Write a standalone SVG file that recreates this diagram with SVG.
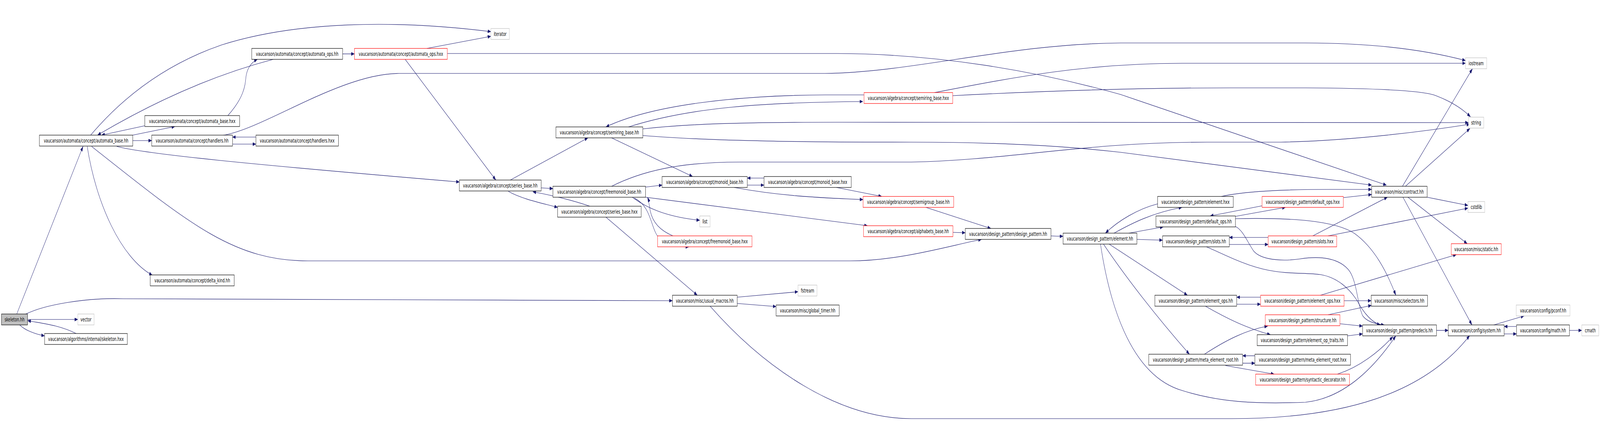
<svg xmlns="http://www.w3.org/2000/svg" width="6496" height="1078" viewBox="0 0 6496 1078" preserveAspectRatio="none" style="width:100vw;height:100vh;display:block">
<style>
.node rect{fill:#ffffff;stroke:#000000;stroke-width:1.2}
.node.red rect{stroke:#ff0000}
.node.std rect{stroke:#bfbfbf}
.node.root rect{fill:#bfbfbf}
.node text{font-family:"DejaVu Sans","Liberation Sans",sans-serif;font-size:14px;fill:#000000;text-anchor:middle}
#edges path{fill:none;stroke:#191970;stroke-width:1.2;marker-end:url(#arr)}
</style>
<defs>
<marker id="arr" markerUnits="userSpaceOnUse" markerWidth="13" markerHeight="9" refX="13" refY="4.5" orient="auto">
<path d="M0,0 L13,4.5 L0,9 z" fill="#191970" stroke="#191970" stroke-width="0.5"/>
</marker>
</defs>
<rect x="0" y="0" width="6496" height="1078" fill="#ffffff"/>
<g id="edges">
<path d="M68,804 L337,375"/>
<path d="M112,818 L316,818"/>
<path d="M80,832 C100,845 140,855 181,860"/>
<path d="M309,854 C240,832 170,828 112,821"/>
<path d="M102,805 C180,780 350,762 500,765 L2730,770"/>
<path d="M539,346 L710,324"/>
<path d="M588,322 L412,346"/>
<path d="M1109,152 Q760,210 396,346"/>
<path d="M368,346 C430,300 600,180 900,115 C1200,55 1600,50 1993,81"/>
<path d="M539,360 L616,360"/>
<path d="M1039,351 L944,351"/>
<path d="M944,369 L1039,369"/>
<path d="M354,375 C390,520 490,660 619,705"/>
<path d="M474,375 C600,395 1000,420 1865,466"/>
<path d="M372,375 C772,575 950,668 1250,668 L3450,668 C3650,668 3850,630 3985,613"/>
<path d="M925,296 C990,250 995,220 998,200 C1002,175 1020,160 1045,152"/>
<path d="M1391,138 L1439,138"/>
<path d="M1733,124 L1993,93"/>
<path d="M1645,152 L2013,461"/>
<path d="M1816,137 L3400,137 C3800,138 4200,180 4550,242 L5629,474"/>
<path d="M898,347 C1060,335 1380,188 1620,188 L3350,188 C3700,186 4100,112 4550,110 L5300,110 C5600,110 5800,130 5950,155"/>
<path d="M2072,461 L2387,353"/>
<path d="M2197,481 L2245,483"/>
<path d="M2395,528 C2320,512 2240,500 2163,491"/>
<path d="M2064,490 C2120,510 2200,520 2264,531"/>
<path d="M2483,353 L2812,452"/>
<path d="M3508,243 L3350,243 C3000,244 2650,268 2460,325"/>
<path d="M2552,325 C2800,275 3100,262 3503,260"/>
<path d="M2610,330 C2800,317 3000,313 3400,313 L5962,314"/>
<path d="M2610,347 C2900,362 3300,364 3700,364 C4000,364 4300,372 4550,390 L5569,474"/>
<path d="M2483,477 C2600,440 2750,415 3000,415 L3700,415 C4100,410 4400,364 4900,364 L5200,364 C5500,360 5800,335 5968,318"/>
<path d="M2621,479 L2688,474"/>
<path d="M3102,456 L3034,456"/>
<path d="M3034,474 L3102,474"/>
<path d="M2981,480 C3150,500 3300,506 3504,511"/>
<path d="M3396,480 L3580,503"/>
<path d="M2621,505 L3522,578"/>
<path d="M2567,505 C2620,530 2700,555 2841,564"/>
<path d="M2575,507 C2650,530 2640,590 2680,612 C2720,628 2760,632 2797,632"/>
<path d="M2732,604 C2680,590 2650,570 2640,540 C2635,520 2632,510 2629,505"/>
<path d="M2460,556 L2831,756"/>
<path d="M2993,761 L3240,747"/>
<path d="M2993,777 L3151,785"/>
<path d="M2883,784 C3100,940 3400,1072 3700,1072 L5000,1072 C5450,1072 5780,1010 5967,859"/>
<path d="M3794,237 C4100,200 4400,162 4800,162 L5950,162"/>
<path d="M3868,245 C4200,234 4600,225 5000,225 L5300,225 C5600,226 5780,232 5830,245 C5900,262 5940,280 5970,299"/>
<path d="M3759,531 L4023,585"/>
<path d="M3869,595 L3919,596"/>
<path d="M4267,604 C4290,605 4300,605 4316,605"/>
<path d="M4700,522 C4620,535 4540,565 4488,597"/>
<path d="M4523,597 C4600,570 4680,545 4799,531"/>
<path d="M4583,597 L4723,581"/>
<path d="M4616,613 L4720,615"/>
<path d="M4503,625 L4821,756"/>
<path d="M4480,625 C4560,700 4680,800 4829,907"/>
<path d="M4468,625 C4500,760 4580,960 4800,1000 C4950,1030 5100,1035 5300,1030 C5450,1020 5570,950 5667,860"/>
<path d="M4959,503 C5050,490 5200,485 5400,485 L5569,485"/>
<path d="M5454,506 L5569,498"/>
<path d="M5124,527 L4913,553"/>
<path d="M5016,554 L5219,531"/>
<path d="M5016,560 C5250,557 5420,565 5500,598 C5580,635 5630,695 5667,756"/>
<path d="M5016,580 C5045,588 5065,620 5090,643 C5120,665 5200,670 5278,663 C5360,655 5440,660 5480,695 C5510,725 5510,775 5532,808 C5550,825 5590,830 5620,832"/>
<path d="M5149,608 L4991,608"/>
<path d="M4991,626 L5149,626"/>
<path d="M4898,632 C4950,645 5050,680 5150,692 C5230,702 5300,698 5360,703 C5430,710 5480,740 5510,770 C5540,805 5570,825 5604,832"/>
<path d="M5330,604 L5633,505"/>
<path d="M5392,604 L5960,533"/>
<path d="M5118,761 L5021,761"/>
<path d="M5021,779 L5118,779"/>
<path d="M5457,770 L5567,770"/>
<path d="M5361,756 L5913,652"/>
<path d="M4894,784 C4980,815 5060,840 5158,857"/>
<path d="M5392,806 L5568,782"/>
<path d="M5440,829 L5532,835"/>
<path d="M5471,860 L5532,855"/>
<path d="M4890,907 C4980,870 5060,845 5147,835"/>
<path d="M5095,911 L5045,911"/>
<path d="M5045,930 L5095,930"/>
<path d="M4975,936 L5173,958"/>
<path d="M5430,958 C5520,940 5600,900 5655,862"/>
<path d="M5694,477 L5978,176"/>
<path d="M5706,477 L5968,329"/>
<path d="M5794,505 L5960,526"/>
<path d="M5716,505 L5957,624"/>
<path d="M5696,505 L5976,832"/>
<path d="M5832,846 L5880,846"/>
<path d="M6065,832 L6188,809"/>
<path d="M6157,836 L6107,836"/>
<path d="M6107,855 L6157,855"/>
<path d="M6372,846 L6422,846"/>
</g>
<g id="n1" class="node root"><rect x="6" y="804" width="106" height="28"/><text x="59" y="823">skeleton.hh</text></g>
<g id="n2" class="node"><rect x="160" y="346" width="379" height="28"/><text x="349.5" y="365">vaucanson/automata/concept/automata_base.hh</text></g>
<g id="n3" class="node std"><rect x="316" y="804" width="66" height="28"/><text x="349" y="823">vector</text></g>
<g id="n4" class="node"><rect x="181" y="854" width="336" height="28"/><text x="349" y="873">vaucanson/algorithms/internal/skeleton.hxx</text></g>
<g id="n5" class="node"><rect x="1022" y="124" width="369" height="28"/><text x="1206.5" y="143">vaucanson/automata/concept/automata_ops.hh</text></g>
<g id="n6" class="node"><rect x="588" y="296" width="385" height="28"/><text x="780.5" y="315">vaucanson/automata/concept/automata_base.hxx</text></g>
<g id="n7" class="node"><rect x="616" y="346" width="328" height="28"/><text x="780" y="365">vaucanson/automata/concept/handlers.hh</text></g>
<g id="n8" class="node"><rect x="1039" y="346" width="335" height="28"/><text x="1206.5" y="365">vaucanson/automata/concept/handlers.hxx</text></g>
<g id="n9" class="node"><rect x="610" y="704" width="341" height="28"/><text x="780.5" y="723">vaucanson/automata/concept/delta_kind.hh</text></g>
<g id="n10" class="node red"><rect x="1439" y="124" width="377" height="28"/><text x="1627.5" y="143">vaucanson/automata/concept/automata_ops.hxx</text></g>
<g id="n11" class="node std"><rect x="1993" y="73" width="75" height="28"/><text x="2030.5" y="92">iterator</text></g>
<g id="n12" class="node"><rect x="1865" y="461" width="332" height="28"/><text x="2031" y="480">vaucanson/algebra/concept/series_base.hh</text></g>
<g id="n13" class="node"><rect x="2257" y="325" width="353" height="28"/><text x="2433.5" y="344">vaucanson/algebra/concept/semiring_base.hh</text></g>
<g id="n14" class="node"><rect x="2245" y="477" width="376" height="28"/><text x="2433" y="496">vaucanson/algebra/concept/freemonoid_base.hh</text></g>
<g id="n15" class="node"><rect x="2264" y="528" width="339" height="28"/><text x="2433.5" y="547">vaucanson/algebra/concept/series_base.hxx</text></g>
<g id="n16" class="node"><rect x="2688" y="452" width="346" height="28"/><text x="2861" y="471">vaucanson/algebra/concept/monoid_base.hh</text></g>
<g id="n17" class="node"><rect x="3102" y="452" width="354" height="28"/><text x="3279" y="471">vaucanson/algebra/concept/monoid_base.hxx</text></g>
<g id="n18" class="node std"><rect x="2841" y="553" width="42" height="28"/><text x="2862" y="572">list</text></g>
<g id="n19" class="node red"><rect x="2670" y="604" width="383" height="28"/><text x="2861.5" y="623">vaucanson/algebra/concept/freemonoid_base.hxx</text></g>
<g id="n20" class="node"><rect x="2730" y="756" width="263" height="28"/><text x="2861.5" y="775">vaucanson/misc/usual_macros.hh</text></g>
<g id="n21" class="node std"><rect x="3240" y="730" width="77" height="28"/><text x="3278.5" y="749">fstream</text></g>
<g id="n22" class="node"><rect x="3151" y="781" width="256" height="28"/><text x="3279" y="800">vaucanson/misc/global_timer.hh</text></g>
<g id="n23" class="node red"><rect x="3508" y="237" width="360" height="28"/><text x="3688" y="256">vaucanson/algebra/concept/semiring_base.hxx</text></g>
<g id="n24" class="node red"><rect x="3504" y="503" width="368" height="28"/><text x="3688" y="522">vaucanson/algebra/concept/semigroup_base.hh</text></g>
<g id="n25" class="node red"><rect x="3506" y="578" width="363" height="28"/><text x="3687.5" y="597">vaucanson/algebra/concept/alphabets_base.hh</text></g>
<g id="n26" class="node"><rect x="3919" y="585" width="348" height="28"/><text x="4093" y="604">vaucanson/design_pattern/design_pattern.hh</text></g>
<g id="n27" class="node"><rect x="4316" y="597" width="300" height="28"/><text x="4466" y="616">vaucanson/design_pattern/element.hh</text></g>
<g id="n28" class="node"><rect x="4700" y="503" width="307" height="28"/><text x="4853.5" y="522">vaucanson/design_pattern/element.hxx</text></g>
<g id="n29" class="node red"><rect x="5124" y="503" width="330" height="28"/><text x="5289" y="522">vaucanson/design_pattern/default_ops.hxx</text></g>
<g id="n30" class="node"><rect x="4693" y="553" width="323" height="28"/><text x="4854.5" y="572">vaucanson/design_pattern/default_ops.hh</text></g>
<g id="n31" class="node"><rect x="4720" y="604" width="271" height="28"/><text x="4855.5" y="623">vaucanson/design_pattern/slots.hh</text></g>
<g id="n32" class="node red"><rect x="5149" y="604" width="278" height="28"/><text x="5288" y="623">vaucanson/design_pattern/slots.hxx</text></g>
<g id="n33" class="node"><rect x="5569" y="477" width="225" height="28"/><text x="5681.5" y="496">vaucanson/misc/contract.hh</text></g>
<g id="n34" class="node"><rect x="4689" y="756" width="332" height="28"/><text x="4855" y="775">vaucanson/design_pattern/element_ops.hh</text></g>
<g id="n35" class="node red"><rect x="5118" y="756" width="339" height="28"/><text x="5287.5" y="775">vaucanson/design_pattern/element_ops.hxx</text></g>
<g id="n36" class="node"><rect x="5567" y="756" width="229" height="28"/><text x="5681.5" y="775">vaucanson/misc/selectors.hh</text></g>
<g id="n37" class="node red"><rect x="5137" y="806" width="303" height="28"/><text x="5288.5" y="825">vaucanson/design_pattern/structure.hh</text></g>
<g id="n38" class="node"><rect x="5104" y="857" width="367" height="28"/><text x="5287.5" y="876">vaucanson/design_pattern/element_op_traits.hh</text></g>
<g id="n39" class="node"><rect x="5532" y="832" width="300" height="28"/><text x="5682" y="851">vaucanson/design_pattern/predecls.hh</text></g>
<g id="n40" class="node"><rect x="4664" y="907" width="381" height="28"/><text x="4854.5" y="926">vaucanson/design_pattern/meta_element_root.hh</text></g>
<g id="n41" class="node"><rect x="5095" y="907" width="388" height="28"/><text x="5289" y="926">vaucanson/design_pattern/meta_element_root.hxx</text></g>
<g id="n42" class="node red"><rect x="5098" y="958" width="381" height="28"/><text x="5288.5" y="977">vaucanson/design_pattern/syntactic_decorator.hh</text></g>
<g id="n43" class="node std"><rect x="5950" y="148" width="86" height="28"/><text x="5993" y="167">iostream</text></g>
<g id="n44" class="node std"><rect x="5962" y="300" width="62" height="28"/><text x="5993" y="319">string</text></g>
<g id="n45" class="node std"><rect x="5960" y="516" width="68" height="28"/><text x="5994" y="535">cstdlib</text></g>
<g id="n46" class="node red"><rect x="5892" y="624" width="203" height="28"/><text x="5993.5" y="643">vaucanson/misc/static.hh</text></g>
<g id="n47" class="node"><rect x="5880" y="832" width="227" height="28"/><text x="5993.5" y="851">vaucanson/config/system.hh</text></g>
<g id="n48" class="node std"><rect x="6156" y="781" width="218" height="28"/><text x="6265" y="800">vaucanson/config/pconf.hh</text></g>
<g id="n49" class="node"><rect x="6157" y="832" width="215" height="28"/><text x="6264.5" y="851">vaucanson/config/math.hh</text></g>
<g id="n50" class="node std"><rect x="6422" y="832" width="69" height="28"/><text x="6456.5" y="851">cmath</text></g>
</svg>
